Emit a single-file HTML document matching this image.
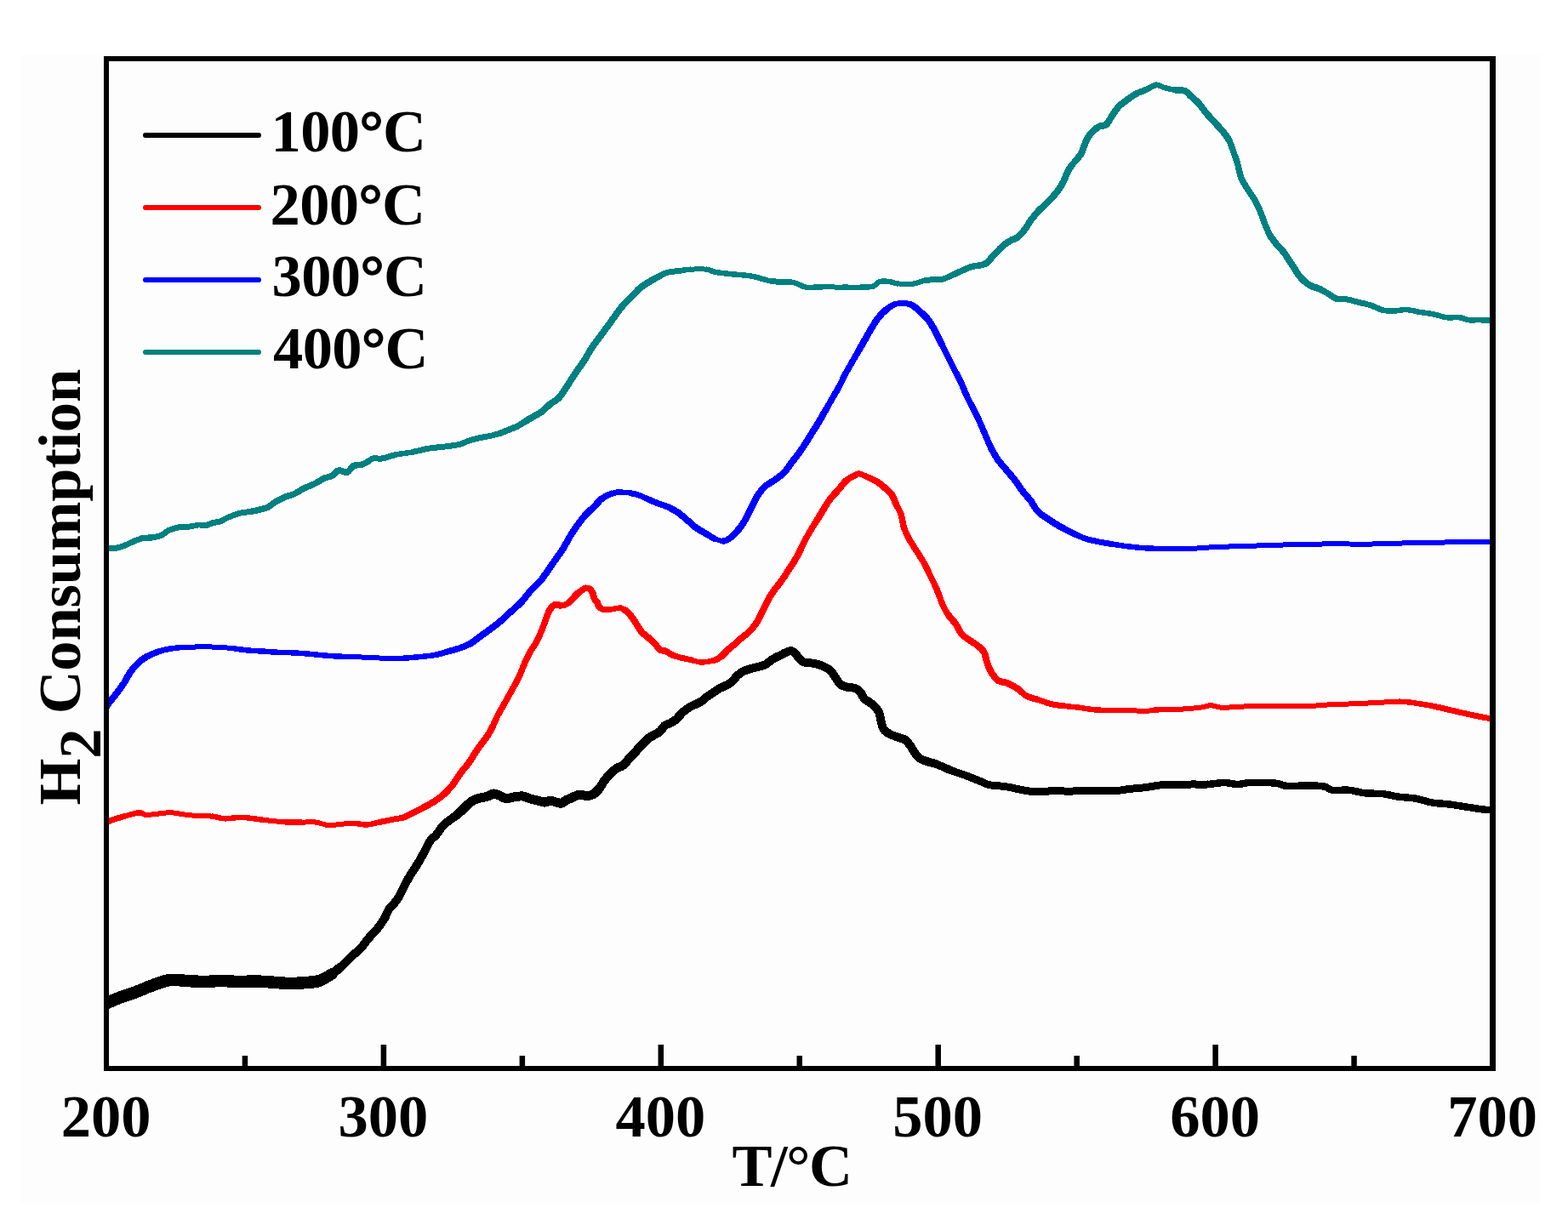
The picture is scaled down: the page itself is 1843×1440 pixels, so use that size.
<!DOCTYPE html>
<html><head><meta charset="utf-8"><title>H2 Consumption vs T</title>
<style>html,body{margin:0;padding:0;background:#fff;}body{width:1843px;height:1440px;overflow:hidden;}svg{display:block;}</style>
</head><body>
<svg width="1843" height="1440" viewBox="0 0 1843 1440">
<defs><clipPath id="pa"><rect x="125" y="60" width="1629.5" height="1196"/></clipPath></defs>
<rect x="0" y="0" width="1843" height="1440" fill="#ffffff"/>
<rect x="25" y="64" width="1786" height="1350" fill="#fdfdfd"/>
<g fill="none" stroke-linejoin="round" stroke-linecap="round" clip-path="url(#pa)" shape-rendering="crispEdges">
<path d="M125.2 645.0C127.2 644.9 133.9 644.7 137.4 644.1C140.9 643.5 143.1 642.6 146.0 641.5C148.9 640.4 151.2 639.0 154.7 637.5C158.2 636.0 163.1 633.7 166.9 632.8" stroke="#008080" stroke-width="7"/>
<path d="M166.9 632.8C170.7 631.9 173.5 632.6 177.3 632.0" stroke="#008080" stroke-width="7.5"/>
<path d="M177.3 632.0C181.1 631.4 186.0 630.8 189.5 629.4C193.0 628.0 194.6 625.2 198.1 623.6C201.6 622.0 206.0 620.6 210.3 619.8C214.7 619.0 220.4 619.3 224.2 618.9" stroke="#008080" stroke-width="7"/>
<path d="M224.2 618.9C228.0 618.5 230.0 617.4 232.9 617.2C235.8 617.0 238.6 618.1 241.5 617.7" stroke="#008080" stroke-width="6.5"/>
<path d="M241.5 617.7C244.4 617.3 247.3 615.4 250.2 614.6C253.1 613.8 256.0 613.9 258.9 612.9C261.8 611.9 263.8 610.1 267.6 608.5C271.4 606.9 277.2 604.4 281.5 603.3C285.8 602.1 290.1 602.2 293.6 601.6" stroke="#008080" stroke-width="7"/>
<path d="M293.6 601.6C297.1 601.0 298.8 600.7 302.3 599.8C305.8 598.9 311.0 598.0 314.5 596.4C318.0 594.8 319.7 592.3 323.2 590.3C326.7 588.3 331.6 585.8 335.3 584.2C339.1 582.6 341.9 582.4 345.7 580.7C349.5 579.0 353.8 575.8 357.9 573.8C361.9 571.8 366.2 570.5 370.0 568.6C373.8 566.7 377.0 564.1 380.5 562.5C384.0 560.9 388.0 560.6 390.9 559.0C393.8 557.4 394.9 553.6 397.8 553.0C400.7 552.4 405.3 556.1 408.2 555.2C411.1 554.3 412.3 549.3 415.2 547.8C418.1 546.3 422.7 546.9 425.6 546.0C428.5 545.1 430.5 543.7 432.6 542.5" stroke="#008080" stroke-width="7.5"/>
<path d="M432.6 542.5C434.7 541.3 435.6 539.5 438.4 538.9C441.2 538.3 444.9 539.7 449.5 538.9C454.1 538.1 460.2 535.5 466.1 534.3" stroke="#008080" stroke-width="7"/>
<path d="M466.1 534.3C472.0 533.1 478.5 532.7 484.6 531.5" stroke="#008080" stroke-width="6.5"/>
<path d="M484.6 531.5C490.8 530.3 496.6 528.4 503.0 527.3C509.4 526.2 517.1 525.8 523.3 525.0C529.5 524.2 535.6 523.5 540.0 522.4C544.4 521.3 546.5 519.7 549.7 518.6C552.9 517.5 556.1 516.5 559.4 515.7C562.6 514.9 566.0 514.4 569.2 513.7C572.5 513.1 575.7 512.6 578.9 511.8C582.1 511.0 585.4 510.0 588.6 508.9" stroke="#008080" stroke-width="7"/>
<path d="M588.6 508.9C591.8 507.8 595.1 506.3 598.3 505.0C601.5 503.7 604.8 502.7 608.0 501.1C611.2 499.5 614.5 497.1 617.7 495.2" stroke="#008080" stroke-width="7.5"/>
<path d="M617.7 495.2C621.0 493.2 624.2 491.3 627.5 489.4C630.8 487.5 634.0 486.0 637.2 483.6C640.4 481.2 643.7 477.4 646.9 474.8C650.1 472.2 653.4 471.4 656.6 468.0C659.8 464.6 663.0 459.2 666.3 454.4C669.5 449.5 672.9 443.8 676.1 438.9C679.4 434.0 682.6 430.3 685.8 425.3C689.0 420.3 692.6 413.5 695.5 409.0C698.4 404.5 700.9 401.6 703.3 398.3C705.7 395.0 707.8 392.2 710.0 389.2C712.2 386.1 714.5 383.1 716.7 380.0C718.9 376.9 721.1 373.9 723.3 370.8C725.5 367.8 727.6 364.6 730.0 361.7C732.4 358.8 735.0 355.9 737.5 353.3C740.0 350.7 742.5 348.3 745.0 345.8C747.5 343.3 750.0 340.4 752.5 338.3C755.0 336.2 757.4 335.0 760.0 333.3C762.6 331.6 765.7 329.8 768.3 328.3" stroke="#008080" stroke-width="8"/>
<path d="M768.3 328.3C770.9 326.8 773.1 325.5 775.8 324.2" stroke="#008080" stroke-width="7.5"/>
<path d="M775.8 324.2C778.4 322.9 780.2 321.4 784.2 320.4C788.2 319.4 795.1 318.8 799.7 318.2" stroke="#008080" stroke-width="7"/>
<path d="M799.7 318.2C804.3 317.6 806.4 316.9 811.6 316.7" stroke="#008080" stroke-width="6.5"/>
<path d="M811.6 316.7C816.8 316.4 825.9 316.2 830.7 316.7" stroke="#008080" stroke-width="6"/>
<path d="M830.7 316.7C835.5 317.2 835.5 318.9 840.3 319.8C845.1 320.7 852.2 321.4 859.4 322.2C866.5 323.0 875.2 323.2 883.2 324.6C891.2 326.0 899.9 329.5 907.1 330.6" stroke="#008080" stroke-width="6.5"/>
<path d="M907.1 330.6C914.3 331.7 921.4 330.7 926.2 331.1" stroke="#008080" stroke-width="7"/>
<path d="M926.2 331.1C931.0 331.5 932.2 331.9 935.8 333.0C939.4 334.1 942.5 337.0 947.7 337.7C952.9 338.4 959.6 337.3 966.8 337.3" stroke="#008080" stroke-width="6.5"/>
<path d="M966.8 337.3C974.0 337.3 982.8 337.6 990.7 337.7" stroke="#008080" stroke-width="6"/>
<path d="M990.7 337.7C998.7 337.8 1008.5 337.9 1014.5 337.7C1020.5 337.5 1023.3 337.6 1026.5 336.5C1029.7 335.4 1030.4 332.0 1033.6 331.1C1036.8 330.2 1042.0 330.7 1045.6 331.1C1049.2 331.5 1050.3 333.0 1055.1 333.4" stroke="#008080" stroke-width="6.5"/>
<path d="M1055.1 333.4C1059.9 333.8 1068.6 334.1 1074.2 333.4" stroke="#008080" stroke-width="6"/>
<path d="M1074.2 333.4C1079.8 332.7 1082.9 330.3 1088.5 329.4" stroke="#008080" stroke-width="6.5"/>
<path d="M1088.5 329.4C1094.1 328.5 1102.0 329.4 1107.6 328.2C1113.2 327.0 1116.4 324.6 1122.0 322.2" stroke="#008080" stroke-width="7"/>
<path d="M1122.0 322.2C1127.6 319.8 1135.0 315.9 1141.0 313.9C1147.0 311.9 1153.4 312.5 1157.8 310.3" stroke="#008080" stroke-width="7.5"/>
<path d="M1157.8 310.3C1162.2 308.1 1163.9 304.2 1167.3 300.7C1170.7 297.2 1175.0 292.4 1178.4 289.4C1181.8 286.4 1184.6 284.8 1187.7 282.9C1190.8 281.0 1194.1 280.4 1196.9 278.3C1199.7 276.2 1201.8 273.2 1204.3 270.0C1206.8 266.8 1209.2 262.3 1211.7 258.9C1214.2 255.5 1216.2 252.8 1219.0 249.7C1221.8 246.6 1225.2 243.6 1228.3 240.5C1231.4 237.4 1234.7 234.4 1237.5 231.3C1240.3 228.2 1242.8 225.1 1244.9 222.0C1247.1 218.9 1248.9 215.9 1250.4 212.8C1251.9 209.7 1252.6 206.7 1254.1 203.6C1255.6 200.5 1257.8 197.0 1259.6 194.4" stroke="#008080" stroke-width="8"/>
<path d="M1259.6 194.4C1261.4 191.8 1263.2 190.2 1265.1 187.9" stroke="#008080" stroke-width="7.5"/>
<path d="M1265.1 187.9C1266.9 185.6 1268.8 184.0 1270.7 180.5C1272.6 177.0 1274.4 170.5 1276.2 166.7C1278.0 162.9 1279.2 160.4 1281.7 157.5C1284.2 154.6 1287.9 151.0 1291.0 149.2C1294.1 147.3 1297.4 148.7 1300.2 146.4C1303.0 144.1 1305.1 138.8 1307.6 135.3C1310.1 131.8 1312.2 128.1 1315.0 125.2C1317.8 122.3 1320.8 120.3 1324.2 117.8C1327.6 115.3 1331.5 112.4 1335.2 110.4" stroke="#008080" stroke-width="8"/>
<path d="M1335.2 110.4C1338.9 108.4 1342.3 107.5 1346.3 105.8" stroke="#008080" stroke-width="7.5"/>
<path d="M1346.3 105.8C1350.3 104.0 1355.5 100.4 1359.2 99.9" stroke="#008080" stroke-width="7"/>
<path d="M1359.2 99.9C1362.9 99.5 1364.7 102.1 1368.4 103.1C1372.1 104.1 1377.4 105.2 1381.4 105.8" stroke="#008080" stroke-width="6.5"/>
<path d="M1381.4 105.8C1385.4 106.4 1389.3 105.5 1392.4 106.7" stroke="#008080" stroke-width="7.5"/>
<path d="M1392.4 106.7C1395.5 107.9 1397.0 110.7 1399.8 113.2C1402.6 115.7 1405.9 118.1 1409.0 121.5C1412.1 124.9 1415.2 129.8 1418.3 133.5C1421.4 137.2 1424.4 140.2 1427.5 143.6C1430.6 147.0 1433.9 150.4 1436.7 153.8C1439.5 157.2 1441.9 159.9 1444.1 163.9" stroke="#008080" stroke-width="8"/>
<path d="M1444.1 163.9C1446.2 167.9 1447.8 172.7 1449.6 177.8C1451.4 182.9 1453.6 189.2 1455.1 194.4C1456.6 199.6 1456.9 204.5 1458.8 209.1C1460.7 213.7 1463.7 218.0 1466.2 222.0C1468.7 226.0 1471.1 228.8 1473.6 233.1C1476.1 237.4 1478.8 243.0 1481.0 247.9C1483.2 252.8 1484.5 257.8 1486.5 262.6C1488.5 267.5 1490.5 272.8 1493.0 277.0" stroke="#008080" stroke-width="7.5"/>
<path d="M1493.0 277.0C1495.5 281.2 1498.6 284.9 1501.3 288.1C1504.0 291.4 1506.6 293.6 1508.9 296.5C1511.2 299.4 1512.9 302.6 1514.9 305.6C1516.9 308.6 1519.2 311.9 1521.0 314.7C1522.8 317.5 1523.6 319.6 1525.6 322.3C1527.6 325.0 1530.7 328.3 1533.2 330.6C1535.7 332.9 1537.8 334.5 1540.8 336.0C1543.8 337.5 1547.9 338.2 1551.4 339.8" stroke="#008080" stroke-width="8"/>
<path d="M1551.4 339.8C1554.9 341.4 1558.7 343.9 1562.0 345.8C1565.3 347.7 1567.7 350.2 1571.2 351.2" stroke="#008080" stroke-width="7.5"/>
<path d="M1571.2 351.2C1574.8 352.2 1579.2 351.3 1583.3 351.9C1587.3 352.5 1590.9 353.9 1595.5 355.0C1600.1 356.1 1605.6 357.2 1610.7 358.8C1615.8 360.4 1621.4 363.7 1625.9 364.8" stroke="#008080" stroke-width="7"/>
<path d="M1625.9 364.8C1630.5 365.9 1633.5 365.7 1638.0 365.6C1642.5 365.5 1647.9 363.9 1653.2 364.1C1658.5 364.4 1664.6 366.2 1669.9 367.1C1675.2 368.0 1680.0 368.4 1685.1 369.4C1690.2 370.4 1695.2 372.6 1700.3 373.2C1705.4 373.8 1711.2 372.7 1715.5 373.2C1719.8 373.7 1722.3 375.7 1726.1 376.2C1729.9 376.7 1733.8 376.1 1738.3 376.2C1742.8 376.3 1750.5 376.6 1753.0 376.7" stroke="#008080" stroke-width="6.5"/>
<path d="M125.2 830.3C126.1 829.1 128.4 825.9 130.4 823.3C132.4 820.7 134.8 818.2 137.4 814.7C140.0 811.2 143.4 806.5 146.0 802.5C148.6 798.5 150.4 794.1 153.0 790.4C155.6 786.6 158.5 783.0 161.7 780.0C164.9 777.0 168.0 774.4 172.1 772.1" stroke="#0000ff" stroke-width="8"/>
<path d="M172.1 772.1C176.2 769.8 181.4 767.6 186.0 766.0" stroke="#0000ff" stroke-width="7.5"/>
<path d="M186.0 766.0C190.6 764.4 194.7 763.5 199.9 762.6" stroke="#0000ff" stroke-width="7"/>
<path d="M199.9 762.6C205.1 761.7 210.3 761.1 217.2 760.8" stroke="#0000ff" stroke-width="6.5"/>
<path d="M217.2 760.8C224.1 760.4 234.6 760.5 241.5 760.5C248.4 760.5 253.1 760.4 258.9 760.8C264.7 761.1 270.5 762.0 276.3 762.6" stroke="#0000ff" stroke-width="6"/>
<path d="M276.3 762.6C282.1 763.2 287.8 764.2 293.6 764.7C299.4 765.2 305.2 765.3 311.0 765.7C316.8 766.1 322.6 766.6 328.4 766.9C334.2 767.2 339.9 767.1 345.7 767.4C351.5 767.7 357.3 768.2 363.1 768.7C368.9 769.2 374.7 769.9 380.5 770.4C386.3 770.9 392.0 771.3 397.8 771.6C403.6 771.9 408.4 771.9 415.2 772.1" stroke="#0000ff" stroke-width="6.5"/>
<path d="M415.2 772.1C422.0 772.4 431.4 772.8 438.4 773.1C445.3 773.4 450.8 773.9 456.9 774.0C463.0 774.1 469.1 773.9 475.3 773.6" stroke="#0000ff" stroke-width="6"/>
<path d="M475.3 773.6C481.5 773.3 487.6 772.7 493.8 772.1C500.0 771.5 506.7 771.0 512.2 769.9" stroke="#0000ff" stroke-width="6.5"/>
<path d="M512.2 769.9C517.7 768.8 522.4 767.0 527.0 765.7" stroke="#0000ff" stroke-width="7"/>
<path d="M527.0 765.7C531.6 764.4 535.6 763.5 539.9 762.0C544.2 760.5 548.1 759.2 552.8 756.5" stroke="#0000ff" stroke-width="7.5"/>
<path d="M552.8 756.5C557.5 753.8 562.6 749.5 568.1 745.5C573.6 741.5 580.4 736.8 585.6 732.5C590.8 728.2 594.8 724.2 599.4 720.0C604.0 715.8 609.1 711.7 613.1 707.5C617.1 703.3 619.4 699.2 623.1 695.0C626.9 690.8 632.1 686.7 635.6 682.5C639.1 678.3 641.5 674.2 644.4 670.0C647.3 665.8 650.2 661.7 653.1 657.5C656.0 653.3 659.3 649.2 661.9 645.0C664.5 640.8 666.3 636.7 668.8 632.5C671.3 628.3 674.0 624.2 676.9 620.0C679.8 615.8 682.6 611.7 686.3 607.5C689.9 603.3 695.2 598.6 698.8 595.0C702.4 591.4 704.5 588.2 707.8 585.8" stroke="#0000ff" stroke-width="8"/>
<path d="M707.8 585.8C711.1 583.3 715.1 581.5 718.8 580.3" stroke="#0000ff" stroke-width="7.5"/>
<path d="M718.8 580.3C722.5 579.1 726.1 578.5 729.9 578.4" stroke="#0000ff" stroke-width="7"/>
<path d="M729.9 578.4C733.7 578.3 738.0 579.2 741.5 579.8" stroke="#0000ff" stroke-width="6"/>
<path d="M741.5 579.8C745.0 580.4 747.7 580.9 751.1 582.1C754.5 583.3 758.4 585.4 762.1 587.0" stroke="#0000ff" stroke-width="7"/>
<path d="M762.1 587.0C765.8 588.6 769.2 590.2 773.2 591.7C777.2 593.2 782.1 594.5 786.1 596.3" stroke="#0000ff" stroke-width="7.5"/>
<path d="M786.1 596.3C790.1 598.1 793.5 600.1 797.2 602.7C800.9 605.3 804.6 608.8 808.3 611.9C812.0 615.0 815.6 618.6 819.3 621.2C823.0 623.8 827.0 625.6 830.4 627.6" stroke="#0000ff" stroke-width="8"/>
<path d="M830.4 627.6C833.8 629.6 836.2 631.8 839.6 633.2" stroke="#0000ff" stroke-width="7.5"/>
<path d="M839.6 633.2C843.0 634.6 847.3 636.2 850.7 635.9" stroke="#0000ff" stroke-width="6"/>
<path d="M850.7 635.9C854.1 635.6 856.8 633.8 859.9 631.3" stroke="#0000ff" stroke-width="7.5"/>
<path d="M859.9 631.3C863.0 628.8 866.3 624.7 869.1 621.2C871.9 617.7 874.0 614.4 876.5 610.1C879.0 605.8 881.8 599.6 883.9 595.3C886.0 591.0 886.9 588.1 889.4 584.3C891.9 580.5 895.2 575.5 898.6 572.3C902.0 569.1 905.9 567.7 909.7 564.9C913.5 562.1 917.6 559.5 921.3 555.7C925.0 551.9 928.0 547.1 931.7 542.2C935.4 537.4 939.8 531.8 943.3 526.6C946.8 521.4 949.8 516.3 953.0 511.1C956.2 505.9 959.9 500.4 962.8 495.5C965.7 490.6 967.9 486.4 970.5 481.9" stroke="#0000ff" stroke-width="8"/>
<path d="M970.5 481.9C973.1 477.4 975.7 472.8 978.3 468.3C980.9 463.8 983.5 459.6 986.1 454.7C988.7 449.8 991.3 444.0 993.9 439.1C996.5 434.2 999.0 430.0 1001.6 425.5C1004.2 421.0 1006.8 416.4 1009.4 411.9" stroke="#0000ff" stroke-width="7.5"/>
<path d="M1009.4 411.9C1012.0 407.4 1014.6 402.8 1017.2 398.3C1019.8 393.8 1022.4 388.9 1025.0 384.7C1027.6 380.5 1029.9 376.6 1032.8 373.0C1035.7 369.4 1039.3 365.9 1042.5 363.3" stroke="#0000ff" stroke-width="8"/>
<path d="M1042.5 363.3C1045.7 360.7 1049.0 358.6 1052.2 357.5" stroke="#0000ff" stroke-width="7.5"/>
<path d="M1052.2 357.5C1055.4 356.4 1058.7 356.3 1061.9 356.5" stroke="#0000ff" stroke-width="6.5"/>
<path d="M1061.9 356.5C1065.1 356.7 1068.3 356.9 1071.6 358.5" stroke="#0000ff" stroke-width="7"/>
<path d="M1071.6 358.5C1074.8 360.1 1078.2 363.3 1081.4 366.2C1084.7 369.1 1088.2 372.3 1091.1 376.0C1094.0 379.7 1096.2 383.9 1098.8 388.6C1101.4 393.3 1104.0 399.0 1106.6 404.2" stroke="#0000ff" stroke-width="8"/>
<path d="M1106.6 404.2C1109.2 409.4 1111.8 414.5 1114.4 419.7C1117.0 424.9 1119.6 430.1 1122.2 435.3C1124.8 440.5 1127.7 446.0 1130.0 450.8C1132.3 455.6 1133.5 459.5 1135.8 464.4C1138.1 469.3 1141.0 474.8 1143.6 480.0C1146.2 485.2 1149.0 490.6 1151.3 495.5C1153.6 500.4 1154.9 503.9 1157.2 509.1C1159.5 514.3 1162.3 521.4 1164.9 526.6" stroke="#0000ff" stroke-width="7.5"/>
<path d="M1164.9 526.6C1167.5 531.8 1169.8 536.0 1172.7 540.2C1175.6 544.4 1179.2 548.0 1182.4 551.9C1185.7 555.8 1189.0 559.4 1192.2 563.6C1195.5 567.8 1198.7 573.0 1201.9 577.2C1205.1 581.4 1208.6 584.8 1211.6 588.8C1214.6 592.8 1215.9 597.1 1219.7 601.0C1223.5 604.9 1229.7 608.7 1234.6 612.0C1239.5 615.3 1244.4 618.1 1249.3 620.8" stroke="#0000ff" stroke-width="8"/>
<path d="M1249.3 620.8C1254.2 623.5 1259.1 625.9 1264.0 628.1" stroke="#0000ff" stroke-width="7.5"/>
<path d="M1264.0 628.1C1268.9 630.3 1271.3 632.0 1278.6 634.0C1285.9 636.0 1298.1 638.2 1307.9 639.8" stroke="#0000ff" stroke-width="7"/>
<path d="M1307.9 639.8C1317.7 641.4 1327.4 642.7 1337.2 643.6C1347.0 644.5 1356.7 644.9 1366.5 645.1" stroke="#0000ff" stroke-width="6.5"/>
<path d="M1366.5 645.1C1376.3 645.4 1386.0 645.4 1395.8 645.1C1405.6 644.8 1415.3 643.8 1425.1 643.3C1434.9 642.8 1444.6 642.5 1454.4 642.2C1464.2 641.9 1473.9 641.6 1483.7 641.3C1493.5 641.0 1503.2 640.6 1513.0 640.4C1522.8 640.1 1532.5 640.0 1542.3 639.8C1552.1 639.6 1561.8 639.2 1571.6 639.2C1581.4 639.2 1591.1 639.8 1600.9 639.8C1610.7 639.8 1620.4 639.1 1630.2 638.9C1640.0 638.6 1649.7 638.5 1659.5 638.3C1669.3 638.1 1679.0 638.0 1688.8 637.8C1698.6 637.6 1707.6 637.0 1718.1 636.9C1728.6 636.8 1746.3 636.9 1752.0 636.9" stroke="#0000ff" stroke-width="6"/>
<path d="M125.0 966.6C126.5 966.0 130.4 964.2 133.9 963.1C137.4 962.0 141.1 961.0 146.0 959.7" stroke="#ff0000" stroke-width="7"/>
<path d="M146.0 959.7C150.9 958.4 159.1 955.6 163.4 955.3C167.8 955.0 167.8 957.8 172.1 957.9" stroke="#ff0000" stroke-width="6.5"/>
<path d="M172.1 957.9C176.4 958.0 184.6 956.6 189.5 956.2C194.4 955.8 195.8 954.9 201.6 955.3C207.4 955.7 216.1 957.7 224.2 958.4C232.3 959.1 243.5 959.1 250.2 959.7" stroke="#ff0000" stroke-width="6"/>
<path d="M250.2 959.7C256.9 960.4 258.3 962.1 264.1 962.3C269.9 962.5 277.2 960.6 285.0 960.9C292.8 961.2 302.3 963.0 311.0 964.0" stroke="#ff0000" stroke-width="6.5"/>
<path d="M311.0 964.0C319.7 965.0 329.8 966.2 337.0 966.6" stroke="#ff0000" stroke-width="6"/>
<path d="M337.0 966.6C344.2 967.0 348.6 966.6 354.4 966.6" stroke="#ff0000" stroke-width="6.5"/>
<path d="M354.4 966.6C360.2 966.6 366.6 966.0 371.8 966.6C377.0 967.2 379.9 969.7 385.7 970.0C391.5 970.3 401.2 968.6 406.5 968.3C411.8 968.0 413.3 967.8 417.4 968.0" stroke="#ff0000" stroke-width="6"/>
<path d="M417.4 968.0C421.5 968.2 426.7 969.7 431.3 969.5C435.9 969.3 440.1 967.8 445.0 966.8" stroke="#ff0000" stroke-width="6.5"/>
<path d="M445.0 966.8C449.9 965.8 455.9 964.4 460.8 963.4C465.8 962.4 470.7 962.1 474.7 960.8" stroke="#ff0000" stroke-width="7"/>
<path d="M474.7 960.8C478.7 959.5 481.2 957.5 485.0 955.6C488.8 953.7 492.8 951.8 497.2 949.5" stroke="#ff0000" stroke-width="7.5"/>
<path d="M497.2 949.5C501.6 947.2 507.1 944.3 511.1 941.7C515.1 939.1 518.0 937.1 521.5 933.9C525.0 930.7 528.5 927.0 532.0 922.6C535.5 918.2 539.0 912.1 542.2 907.8C545.4 903.5 548.3 900.6 551.1 896.7C553.9 892.8 556.3 888.3 558.9 884.4C561.5 880.5 564.3 876.6 566.7 873.3C569.1 870.0 571.3 867.5 573.3 864.4C575.3 861.2 577.0 858.1 578.9 854.4" stroke="#ff0000" stroke-width="8"/>
<path d="M578.9 854.4C580.8 850.7 582.5 845.9 584.4 842.2C586.2 838.5 588.1 835.5 590.0 832.2C591.9 828.9 593.8 825.5 595.6 822.2C597.5 818.9 599.2 815.5 601.1 812.2C603.0 808.9 605.0 805.4 606.7 802.2C608.4 799.1 609.6 796.6 611.1 793.3C612.6 790.0 614.1 785.7 615.6 782.2C617.1 778.7 618.3 775.5 620.0 772.2C621.7 768.9 623.7 765.4 625.6 762.2C627.5 759.1 629.1 757.7 631.3 753.3C633.5 748.9 636.8 740.9 638.7 736.0C640.7 731.1 641.5 727.3 643.0 723.8" stroke="#ff0000" stroke-width="7.5"/>
<path d="M643.0 723.8C644.5 720.3 645.8 717.3 647.4 715.1C649.0 712.9 650.7 711.4 652.6 710.8C654.5 710.2 656.6 711.7 658.6 711.7" stroke="#ff0000" stroke-width="8"/>
<path d="M658.6 711.7C660.6 711.7 662.7 711.7 664.7 710.8C666.7 709.9 668.8 708.4 670.8 706.5" stroke="#ff0000" stroke-width="7.5"/>
<path d="M670.8 706.5C672.8 704.6 675.0 701.4 676.9 699.5C678.8 697.6 680.2 696.6 682.1 695.2" stroke="#ff0000" stroke-width="8"/>
<path d="M682.1 695.2C684.0 693.8 686.3 691.7 688.2 691.3" stroke="#ff0000" stroke-width="7.5"/>
<path d="M688.2 691.3C690.1 690.9 692.0 691.5 693.4 692.6" stroke="#ff0000" stroke-width="7"/>
<path d="M693.4 692.6C694.8 693.7 695.9 695.9 696.8 697.8C697.7 699.7 697.7 702.2 698.6 703.9C699.5 705.6 701.1 706.8 702.0 708.2C702.9 709.6 702.8 711.2 703.8 712.5" stroke="#ff0000" stroke-width="8"/>
<path d="M703.8 712.5C704.8 713.8 706.2 715.3 708.1 716.0" stroke="#ff0000" stroke-width="7.5"/>
<path d="M708.1 716.0C710.0 716.7 712.8 717.0 715.1 716.9" stroke="#ff0000" stroke-width="7"/>
<path d="M715.1 716.9C717.4 716.8 719.7 716.0 722.0 715.6C724.3 715.2 727.0 714.5 729.0 714.7" stroke="#ff0000" stroke-width="6.5"/>
<path d="M729.0 714.7C731.0 714.9 732.6 716.0 734.2 716.9" stroke="#ff0000" stroke-width="7"/>
<path d="M734.2 716.9C735.8 717.8 737.1 718.8 738.5 720.3C739.9 721.8 741.5 723.9 742.8 725.6C744.1 727.4 745.0 728.8 746.3 730.8C747.6 732.8 749.2 735.5 750.7 737.7C752.2 739.9 753.4 742.1 755.0 743.8C756.6 745.5 758.5 746.6 760.2 748.1C761.9 749.6 763.7 750.9 765.4 752.5C767.1 754.1 768.9 755.8 770.6 757.7C772.3 759.6 773.8 762.5 775.8 763.8C777.8 765.1 780.4 764.5 782.8 765.5" stroke="#ff0000" stroke-width="8"/>
<path d="M782.8 765.5C785.2 766.5 787.3 768.6 790.0 769.8" stroke="#ff0000" stroke-width="7.5"/>
<path d="M790.0 769.8C792.7 771.0 795.0 771.8 799.0 772.8C803.0 773.8 809.7 775.1 813.8 776.1" stroke="#ff0000" stroke-width="7"/>
<path d="M813.8 776.1C817.9 777.1 819.4 778.4 823.5 778.5" stroke="#ff0000" stroke-width="6"/>
<path d="M823.5 778.5C827.6 778.6 834.6 777.5 838.5 776.5" stroke="#ff0000" stroke-width="6.5"/>
<path d="M838.5 776.5C842.4 775.5 844.0 774.6 847.0 772.4" stroke="#ff0000" stroke-width="7.5"/>
<path d="M847.0 772.4C850.0 770.2 853.2 765.9 856.2 763.2C859.2 760.5 862.9 758.1 865.0 756.3C867.1 754.4 866.6 754.3 869.1 752.1C871.6 749.9 876.8 746.3 880.2 742.9C883.6 739.5 886.9 735.5 889.4 731.8C891.9 728.1 893.1 724.5 895.0 720.8C896.9 717.1 898.4 713.7 900.5 709.7C902.6 705.7 904.8 701.4 907.9 696.8C911.0 692.2 915.7 686.6 919.0 682.0C922.3 677.4 924.9 673.1 927.5 669.1C930.1 665.1 932.4 661.8 934.6 658.1C936.8 654.4 938.6 650.7 940.5 647.0" stroke="#ff0000" stroke-width="8"/>
<path d="M940.5 647.0C942.4 643.3 943.9 639.6 945.8 635.9C947.7 632.2 950.0 628.3 952.0 624.9C954.0 621.5 955.6 619.0 957.7 615.6" stroke="#ff0000" stroke-width="7.5"/>
<path d="M957.7 615.6C959.8 612.2 962.5 608.0 964.5 604.6C966.5 601.2 968.1 598.4 970.0 595.3C971.9 592.2 973.6 589.3 976.1 586.1C978.6 582.9 982.2 579.5 985.3 576.0C988.4 572.5 991.2 567.8 994.6 564.9" stroke="#ff0000" stroke-width="8"/>
<path d="M994.6 564.9C998.0 562.0 1003.0 559.7 1005.6 558.4" stroke="#ff0000" stroke-width="7.5"/>
<path d="M1005.6 558.4C1008.2 557.1 1008.0 556.5 1010.5 557.0C1013.0 557.5 1016.9 559.6 1020.4 561.2" stroke="#ff0000" stroke-width="7"/>
<path d="M1020.4 561.2C1023.9 562.8 1028.1 564.6 1031.5 566.7" stroke="#ff0000" stroke-width="7.5"/>
<path d="M1031.5 566.7C1034.9 568.9 1037.9 571.6 1040.7 574.1C1043.5 576.6 1045.9 578.3 1048.1 581.5C1050.2 584.7 1051.8 589.6 1053.6 593.5" stroke="#ff0000" stroke-width="8"/>
<path d="M1053.6 593.5C1055.4 597.4 1057.6 600.2 1059.1 604.6C1060.6 609.0 1061.0 615.2 1062.5 620.0C1064.0 624.8 1065.9 628.8 1068.3 633.3C1070.7 637.8 1073.9 642.2 1076.7 646.7C1079.5 651.2 1082.5 655.6 1085.0 660.0C1087.5 664.4 1089.5 668.8 1091.7 673.3C1093.9 677.8 1096.4 682.5 1098.3 686.7C1100.2 690.9 1101.6 694.1 1103.3 698.3C1105.0 702.5 1106.3 707.5 1108.3 711.7C1110.2 715.9 1112.5 719.7 1115.0 723.3" stroke="#ff0000" stroke-width="7.5"/>
<path d="M1115.0 723.3C1117.5 726.9 1120.8 729.7 1123.3 733.3C1125.8 736.9 1127.5 741.9 1130.0 745.0C1132.5 748.1 1135.2 749.5 1138.3 751.7C1141.3 753.9 1145.2 755.8 1148.3 758.3C1151.4 760.8 1154.8 763.4 1156.7 766.7C1158.7 770.0 1158.6 774.4 1160.0 778.3C1161.4 782.2 1162.8 786.4 1165.0 790.0C1167.2 793.6 1170.0 797.8 1173.3 800.0C1176.6 802.2 1181.1 801.6 1185.0 803.3C1188.9 805.0 1193.1 807.5 1196.7 810.0" stroke="#ff0000" stroke-width="8"/>
<path d="M1196.7 810.0C1200.3 812.5 1202.8 816.2 1206.7 818.3C1210.6 820.4 1215.3 821.0 1220.0 822.5" stroke="#ff0000" stroke-width="7.5"/>
<path d="M1220.0 822.5C1224.7 824.0 1229.7 826.2 1235.0 827.5C1240.3 828.8 1246.2 829.3 1251.7 830.0" stroke="#ff0000" stroke-width="7"/>
<path d="M1251.7 830.0C1257.2 830.7 1262.8 831.0 1268.3 831.7C1273.8 832.4 1278.7 833.6 1285.0 834.2C1291.3 834.8 1298.2 835.0 1306.0 835.2" stroke="#ff0000" stroke-width="6.5"/>
<path d="M1306.0 835.2C1313.8 835.4 1325.6 835.0 1332.1 835.2C1338.6 835.4 1340.8 836.6 1345.1 836.5C1349.4 836.4 1351.6 834.8 1358.1 834.4" stroke="#ff0000" stroke-width="6"/>
<path d="M1358.1 834.4C1364.6 834.0 1375.5 834.3 1384.2 833.9" stroke="#ff0000" stroke-width="6.5"/>
<path d="M1384.2 833.9C1392.9 833.5 1403.7 832.6 1410.2 831.8C1416.7 831.0 1418.9 829.2 1423.2 829.2C1427.5 829.2 1429.8 831.6 1436.3 831.8C1442.8 832.0 1453.6 830.8 1462.3 830.5C1471.0 830.2 1479.6 830.0 1488.3 829.9C1497.0 829.8 1505.7 829.9 1514.4 829.9C1523.1 829.9 1531.7 830.2 1540.4 829.9C1549.1 829.6 1557.8 828.5 1566.5 828.1C1575.2 827.7 1583.8 827.6 1592.5 827.3C1601.2 826.9 1609.8 826.4 1618.5 826.0C1627.2 825.6 1637.6 824.7 1644.6 824.7" stroke="#ff0000" stroke-width="6"/>
<path d="M1644.6 824.7C1651.5 824.7 1653.7 825.1 1660.2 826.0C1666.7 826.9 1675.3 828.2 1683.6 829.9" stroke="#ff0000" stroke-width="6.5"/>
<path d="M1683.6 829.9C1691.8 831.5 1701.0 833.9 1709.7 835.9C1718.4 837.9 1728.5 840.2 1735.7 841.7C1742.9 843.2 1749.9 844.3 1752.7 844.8" stroke="#ff0000" stroke-width="7"/>
<path d="M125.0 1179.0C125.5 1178.8 125.5 1179.0 128.0 1178.0C130.5 1177.0 134.7 1175.0 140.0 1173.0C145.3 1171.0 153.3 1168.5 160.0 1166.0C166.7 1163.5 173.3 1160.3 180.0 1158.0C186.7 1155.7 193.3 1152.8 200.0 1152.0C206.7 1151.2 213.3 1152.7 220.0 1153.0C226.7 1153.3 233.3 1154.0 240.0 1154.0C246.7 1154.0 253.3 1153.0 260.0 1153.0C266.7 1153.0 273.3 1153.9 280.0 1154.0C286.7 1154.1 293.3 1153.4 300.0 1153.5C306.7 1153.6 313.3 1154.2 320.0 1154.6C326.7 1155.0 333.3 1155.9 340.0 1156.0C346.7 1156.1 354.2 1155.5 360.0 1155.0C365.8 1154.5 370.0 1154.7 375.0 1153.0" stroke="#000000" stroke-width="14.5"/>
<path d="M375.0 1153.0C380.0 1151.3 385.8 1147.7 390.0 1145.0" stroke="#000000" stroke-width="13.5"/>
<path d="M390.0 1145.0C394.2 1142.3 396.1 1140.4 400.0 1137.0" stroke="#000000" stroke-width="11"/>
<path d="M400.0 1137.0C403.9 1133.6 409.1 1128.4 413.3 1124.4C417.5 1120.5 421.6 1117.0 425.0 1113.3C428.4 1109.6 430.8 1105.9 433.9 1102.2C437.0 1098.5 440.9 1094.8 443.9 1091.1C446.9 1087.4 449.5 1083.7 451.7 1080.0C453.9 1076.3 454.7 1072.6 457.2 1068.9C459.7 1065.2 464.1 1061.5 466.7 1057.8C469.3 1054.1 470.9 1050.4 472.8 1046.7C474.7 1043.0 476.3 1039.3 478.3 1035.6C480.3 1031.9 482.7 1028.1 485.0 1024.4C487.3 1020.7 490.0 1017.0 492.2 1013.3C494.4 1009.6 496.0 1006.4 498.3 1002.2C500.6 998.0 503.5 991.4 505.9 988.0C508.2 984.6 510.3 984.3 512.4 981.9C514.5 979.5 516.2 976.2 518.4 973.6C520.6 971.0 522.9 968.6 525.5 966.4C528.1 964.2 531.1 962.6 533.9 960.4" stroke="#000000" stroke-width="10"/>
<path d="M533.9 960.4C536.7 958.2 539.6 955.7 542.2 953.3" stroke="#000000" stroke-width="10.5"/>
<path d="M542.2 953.3C544.8 950.9 546.8 948.3 549.4 946.1C552.0 943.9 554.9 941.5 557.7 940.1C560.5 938.7 563.5 938.4 566.1 937.7C568.7 937.0 570.9 936.8 573.3 936.0C575.7 935.2 578.2 933.2 580.4 933.0C582.6 932.8 584.2 933.9 586.4 934.8C588.6 935.7 591.6 937.7 593.6 938.3C595.6 938.9 596.3 938.6 598.3 938.3C600.3 938.0 602.7 937.0 605.5 936.6C608.3 936.2 612.0 935.6 615.0 936.0C618.0 936.4 620.4 938.1 623.4 939.0C626.4 939.9 630.2 940.6 633.0 941.3C635.8 942.0 637.7 943.1 640.1 943.1C642.5 943.1 644.1 941.1 647.3 941.3C650.5 941.5 656.2 944.4 659.2 944.3C662.2 944.2 663.0 941.8 665.2 940.7C667.4 939.6 669.7 938.8 672.3 937.7C674.9 936.6 677.9 934.6 680.7 934.2C683.5 933.8 686.5 935.4 689.1 935.4C691.7 935.4 693.8 935.4 696.2 934.2C698.6 933.0 701.0 931.0 703.4 928.2" stroke="#000000" stroke-width="11"/>
<path d="M703.4 928.2C705.8 925.4 708.1 920.7 710.5 917.5C712.9 914.3 715.3 911.5 717.7 909.1C720.1 906.7 722.4 904.7 724.9 903.1C727.4 901.5 730.1 901.5 732.6 899.5C735.1 897.5 737.8 893.4 740.0 891.1C742.2 888.8 743.8 887.6 745.6 885.6C747.5 883.6 749.2 881.0 751.1 878.9C753.0 876.8 754.9 875.1 756.7 873.3C758.6 871.4 760.2 869.4 762.2 867.8C764.2 866.2 766.7 865.2 768.9 863.9C771.1 862.6 773.6 861.8 775.6 860.0C777.6 858.2 779.1 855.0 781.1 853.3" stroke="#000000" stroke-width="10.5"/>
<path d="M781.1 853.3C783.1 851.6 785.8 851.1 787.8 850.0C789.8 848.9 791.4 848.2 793.3 846.7C795.1 845.2 797.0 843.0 798.9 841.1C800.8 839.2 802.4 837.3 804.4 835.6C806.4 833.9 808.9 832.4 811.1 831.1C813.3 829.8 815.6 828.9 817.8 827.8C820.0 826.7 822.2 825.9 824.4 824.4C826.6 822.9 828.9 820.6 831.1 818.9C833.3 817.2 835.6 815.9 837.8 814.4C840.0 812.9 842.2 811.3 844.4 810.0C846.6 808.7 848.9 807.8 851.1 806.7C853.3 805.6 855.8 804.8 857.8 803.3C859.8 801.8 861.4 799.6 863.3 797.8C865.1 795.9 866.8 793.8 868.9 792.2C871.0 790.6 873.0 789.4 875.6 788.3C878.2 787.2 881.5 786.4 884.4 785.6C887.3 784.8 890.7 784.0 893.3 783.3C895.9 782.5 898.0 782.2 900.0 781.1C902.0 780.0 903.8 778.0 905.6 776.7C907.5 775.4 909.1 774.4 911.1 773.3C913.1 772.2 915.6 771.1 917.8 770.0C920.0 768.9 922.4 767.5 924.4 766.7C926.4 765.9 928.3 764.8 930.0 765.0C931.7 765.2 932.9 766.4 934.4 767.8C935.9 769.2 937.2 771.5 938.9 773.3C940.6 775.0 942.0 777.3 944.4 778.3C946.8 779.3 950.3 778.9 953.3 779.4C956.3 779.9 959.4 780.3 962.2 781.1C965.0 781.9 967.6 783.1 970.0 784.4C972.4 785.7 974.7 786.8 976.7 788.9C978.7 791.0 980.4 794.1 982.2 796.7C984.1 799.3 985.6 802.5 987.8 804.4C990.0 806.2 992.8 807.0 995.6 807.8C998.4 808.5 1001.8 808.0 1004.4 808.9C1007.0 809.8 1009.2 811.3 1011.1 813.3C1013.0 815.3 1013.8 819.0 1015.6 821.1C1017.5 823.2 1020.2 824.1 1022.2 825.6C1024.2 827.1 1026.0 828.0 1027.8 830.0C1029.6 832.0 1032.0 834.8 1033.3 837.8C1034.6 840.8 1034.7 844.5 1035.6 847.8C1036.5 851.1 1037.1 855.2 1038.9 857.8C1040.8 860.4 1043.9 861.8 1046.7 863.3C1049.5 864.8 1052.6 865.6 1055.6 866.7C1058.5 867.8 1062.0 868.3 1064.4 870.0C1066.8 871.7 1068.1 874.1 1070.0 876.7C1071.9 879.3 1073.6 883.0 1075.6 885.6C1077.6 888.2 1079.6 890.5 1082.2 892.2C1084.8 893.9 1088.1 894.6 1091.1 895.6C1094.1 896.6 1095.7 896.4 1100.0 898.0" stroke="#000000" stroke-width="10"/>
<path d="M1100.0 898.0C1104.3 899.6 1111.0 902.9 1116.9 905.2" stroke="#000000" stroke-width="9.5"/>
<path d="M1116.9 905.2C1122.8 907.5 1129.2 909.4 1135.3 911.7C1141.4 914.0 1149.2 917.2 1153.8 919.0C1158.4 920.8 1158.4 921.8 1163.0 922.7C1167.6 923.6 1175.3 923.7 1181.5 924.6C1187.7 925.5 1193.8 927.2 1199.9 928.3C1206.1 929.4 1212.2 930.8 1218.4 931.0C1224.6 931.2 1230.7 929.9 1236.8 929.7C1242.9 929.6 1249.0 930.1 1255.2 930.1C1261.4 930.1 1267.6 929.8 1273.7 929.7C1279.8 929.6 1285.9 929.7 1292.1 929.7C1298.2 929.7 1304.4 930.1 1310.6 929.7C1316.8 929.3 1322.8 928.0 1329.0 927.3C1335.2 926.6 1341.3 926.3 1347.5 925.5C1353.7 924.7 1359.8 923.2 1365.9 922.7C1372.1 922.2 1378.7 922.8 1384.4 922.7C1390.1 922.6 1394.2 922.1 1400.0 922.0C1405.8 921.9 1413.0 922.3 1419.5 922.0" stroke="#000000" stroke-width="9"/>
<path d="M1419.5 922.0C1426.0 921.7 1433.2 920.0 1439.1 920.0C1445.0 920.0 1449.8 922.0 1454.7 922.0C1459.6 922.0 1462.9 920.3 1468.4 920.0C1473.9 919.7 1482.4 919.8 1487.9 920.0C1493.4 920.2 1497.4 920.3 1501.6 921.0C1505.8 921.7 1507.4 923.6 1513.3 924.0C1519.2 924.4 1529.5 923.3 1536.7 923.4C1543.9 923.5 1551.4 923.6 1556.3 924.5C1561.2 925.4 1561.1 928.1 1566.0 928.8C1570.9 929.5 1579.1 928.2 1585.6 928.8C1592.1 929.4 1598.6 931.7 1605.1 932.4C1611.6 933.1 1618.2 932.4 1624.7 933.1C1631.2 933.8 1637.7 935.8 1644.2 936.7C1650.7 937.6 1657.2 937.5 1663.7 938.6C1670.2 939.7 1676.8 942.4 1683.3 943.5C1689.8 944.6 1696.3 944.6 1702.8 945.4C1709.3 946.2 1715.8 947.4 1722.3 948.4C1728.8 949.4 1737.0 950.6 1741.9 951.3C1746.9 951.9 1750.3 952.1 1752.0 952.3" stroke="#000000" stroke-width="8.5"/>
</g>
<g fill="#000"><rect x="122" y="66" width="6" height="1193"/><rect x="1751" y="66" width="7" height="1193"/><rect x="122" y="66" width="1636" height="6"/><rect x="122" y="1253" width="1636" height="6"/><rect x="447.65" y="1228" width="6.5" height="26"/><rect x="773.55" y="1228" width="6.5" height="26"/><rect x="1099.45" y="1228" width="6.5" height="26"/><rect x="1425.35" y="1228" width="6.5" height="26"/><rect x="284.70" y="1241" width="6.5" height="13"/><rect x="610.60" y="1241" width="6.5" height="13"/><rect x="936.50" y="1241" width="6.5" height="13"/><rect x="1262.40" y="1241" width="6.5" height="13"/><rect x="1588.30" y="1241" width="6.5" height="13"/></g>
<g font-family="Liberation Serif, Times New Roman, serif" font-weight="bold" font-size="70.5" text-anchor="middle" fill="#000">
<text x="124.5" y="1336">200</text>
<text x="450.4" y="1336">300</text>
<text x="776.3" y="1336">400</text>
<text x="1102.2" y="1336">500</text>
<text x="1428.1" y="1336">600</text>
<text x="1754.0" y="1336">700</text>
</g>
<text font-family="Liberation Serif, Times New Roman, serif" font-weight="bold" font-size="70.5" x="860.5" y="1393.8" letter-spacing="-1.4" fill="#000">T/°C</text>
<text font-family="Liberation Serif, Times New Roman, serif" font-weight="bold" font-size="70.5" transform="translate(94.3 946.5) rotate(-90)" letter-spacing="-0.2" fill="#000">H<tspan dy="23.5">2</tspan><tspan dy="-23.5"> Consumption</tspan></text>
<path d="M171 159.0H304" stroke="#000000" stroke-width="6" stroke-linecap="round"/>
<text font-family="Liberation Serif, Times New Roman, serif" font-weight="bold" font-size="70.5" x="318.5" y="178.2" letter-spacing="-0.6" fill="#000">100<tspan stroke="#000" stroke-width="1.3">°</tspan>C</text>
<path d="M171 244.0H304" stroke="#ff0000" stroke-width="6" stroke-linecap="round"/>
<text font-family="Liberation Serif, Times New Roman, serif" font-weight="bold" font-size="70.5" x="317.5" y="264.0" letter-spacing="-0.6" fill="#000">200<tspan stroke="#000" stroke-width="1.3">°</tspan>C</text>
<path d="M171 329.0H304" stroke="#0000ff" stroke-width="6" stroke-linecap="round"/>
<text font-family="Liberation Serif, Times New Roman, serif" font-weight="bold" font-size="70.5" x="319.5" y="348.3" letter-spacing="-0.6" fill="#000">300<tspan stroke="#000" stroke-width="1.3">°</tspan>C</text>
<path d="M171 414.0H304" stroke="#008080" stroke-width="6" stroke-linecap="round"/>
<text font-family="Liberation Serif, Times New Roman, serif" font-weight="bold" font-size="70.5" x="321.0" y="433.2" letter-spacing="-0.6" fill="#000">400<tspan stroke="#000" stroke-width="1.3">°</tspan>C</text>
</svg>
</body></html>
